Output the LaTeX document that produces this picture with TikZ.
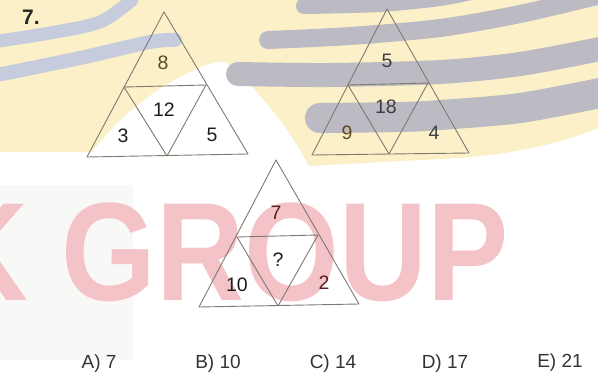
\documentclass[tikz,border=0pt]{standalone}
\usepackage{fontspec}
\setmainfont{Liberation Sans}
\definecolor{wmyellow}{RGB}{251,240,199}
\definecolor{wmband}{RGB}{188,187,195}
\definecolor{wmblue}{RGB}{198,204,222}
\definecolor{wmpink}{RGB}{243,195,200}
\definecolor{wmgrey}{RGB}{248,248,247}
\definecolor{trigray}{RGB}{125,122,112}
\definecolor{numdark}{RGB}{28,28,28}
\definecolor{numolive}{RGB}{92,74,30}
\definecolor{numred}{RGB}{92,30,30}
\tikzset{
  tri/.style={draw=trigray, line width=0.9pt, line join=round},
  num/.style={font=\fontsize{19.5}{20}\selectfont, inner sep=0pt, text=numdark},
  ans/.style={font=\fontsize{19}{20}\selectfont, inner sep=0pt, anchor=base, text=numdark!90},
  band/.style={draw=wmband, line cap=round},
  blueband/.style={draw=wmblue, line cap=round},
}
\begin{document}
\begin{tikzpicture}[x=1pt,y=-1pt]
\useasboundingbox (0,0) rectangle (598,375);
\begin{scope}
\clip (0,0) rectangle (598,375);
% ---- watermark ----
\fill[wmgrey] (0,185) rectangle (133,360);
\fill[wmyellow] (0,0) -- (598,0) -- (598,128)
  .. controls (545,150) and (485,157) .. (440,159) -- (309,166)
  .. controls (298,145) and (280,118) .. (262,98)
  .. controls (250,84) and (238,70) .. (225,62)
  .. controls (212,62) and (202,65) .. (190,72)
  .. controls (160,86) and (122,112) .. (92,152) -- (0,152) -- cycle;
\draw[band, line width=16pt] plot[smooth] coordinates {(304,6) (380,4) (440,-2) (480,-10)};
\draw[band, line width=18pt] plot[smooth] coordinates {(268,40) (350,36) (440,28) (520,14) (605,-6)};
\draw[band, line width=24pt] plot[smooth] coordinates {(238,74) (330,75) (440,72) (520,64) (605,48)};
\draw[band, line width=30pt] plot[smooth] coordinates {(320,118) (400,117) (440,115) (520,108) (605,92)};
\draw[blueband, line width=13pt] plot[smooth] coordinates {(-8,42) (50,33) (100,22) (132,0)};
\draw[blueband, line width=14pt] plot[smooth] coordinates {(-8,76) (80,58) (150,42) (175,40)};
\node[anchor=base west, inner sep=0pt, text=wmpink,
      font=\bfseries\fontsize{140}{140}\selectfont] (wm) at (-60,300)
      {\scalebox{0.87}[1]{K GROUP}};
\end{scope}
% ---- number ----
\node[anchor=base west, inner sep=0pt, text=numdark!95,
      font=\bfseries\fontsize{21}{22}\selectfont] (qnum) at (22,24) {7.};
% ---- triangle 1 ----
\coordinate (a1) at (164,12);
\coordinate (l1) at (87,157);
\coordinate (r1) at (248,154);
\coordinate (ml1) at (124,87);
\coordinate (mr1) at (206,85);
\coordinate (mb1) at (167,156);
\draw[tri] (a1) -- (l1) -- (r1) -- cycle;
\draw[tri] (ml1) -- (mr1) -- (mb1) -- cycle;
\node[num, text=numolive] (t1top) at (163,63) {8};
\node[num] (t1mid) at (164,110) {12};
\node[num] (t1left) at (123,136) {3};
\node[num] (t1right) at (212,135) {5};
% ---- triangle 2 ----
\coordinate (a2) at (387,9);
\coordinate (l2) at (312,155);
\coordinate (r2) at (469,153);
\coordinate (ml2) at (348,85);
\coordinate (mr2) at (428,83);
\coordinate (mb2) at (389,154);
\draw[tri] (a2) -- (l2) -- (r2) -- cycle;
\draw[tri] (ml2) -- (mr2) -- (mb2) -- cycle;
\node[num, text=numdark!85] (t2top) at (387,61) {5};
\node[num, text=numdark!85] (t2mid) at (386,107) {18};
\node[num, text=numolive] (t2left) at (347,133) {9};
\node[num, text=numdark!85] (t2right) at (434,133) {4};
% ---- triangle 3 ----
\coordinate (a3) at (276,160);
\coordinate (l3) at (199,307);
\coordinate (r3) at (359,304);
\coordinate (ml3) at (237,237);
\coordinate (mr3) at (318,235);
\coordinate (mb3) at (278,306);
\draw[tri] (a3) -- (l3) -- (r3) -- cycle;
\draw[tri] (ml3) -- (mr3) -- (mb3) -- cycle;
\node[num, text=numred] (t3top) at (276,213) {7};
\node[num] (t3mid) at (278,260) {?};
\node[num] (t3left) at (237,285) {10};
\node[num, text=numred] (t3right) at (324,283) {2};
% ---- answers ----
\node[ans] (ansA) at (99,368) {A) 7};
\node[ans] (ansB) at (218,368) {B) 10};
\node[ans] (ansC) at (333,368) {C) 14};
\node[ans] (ansD) at (445,368) {D) 17};
\node[ans] (ansE) at (560,367) {E) 21};
\end{tikzpicture}
\end{document}
